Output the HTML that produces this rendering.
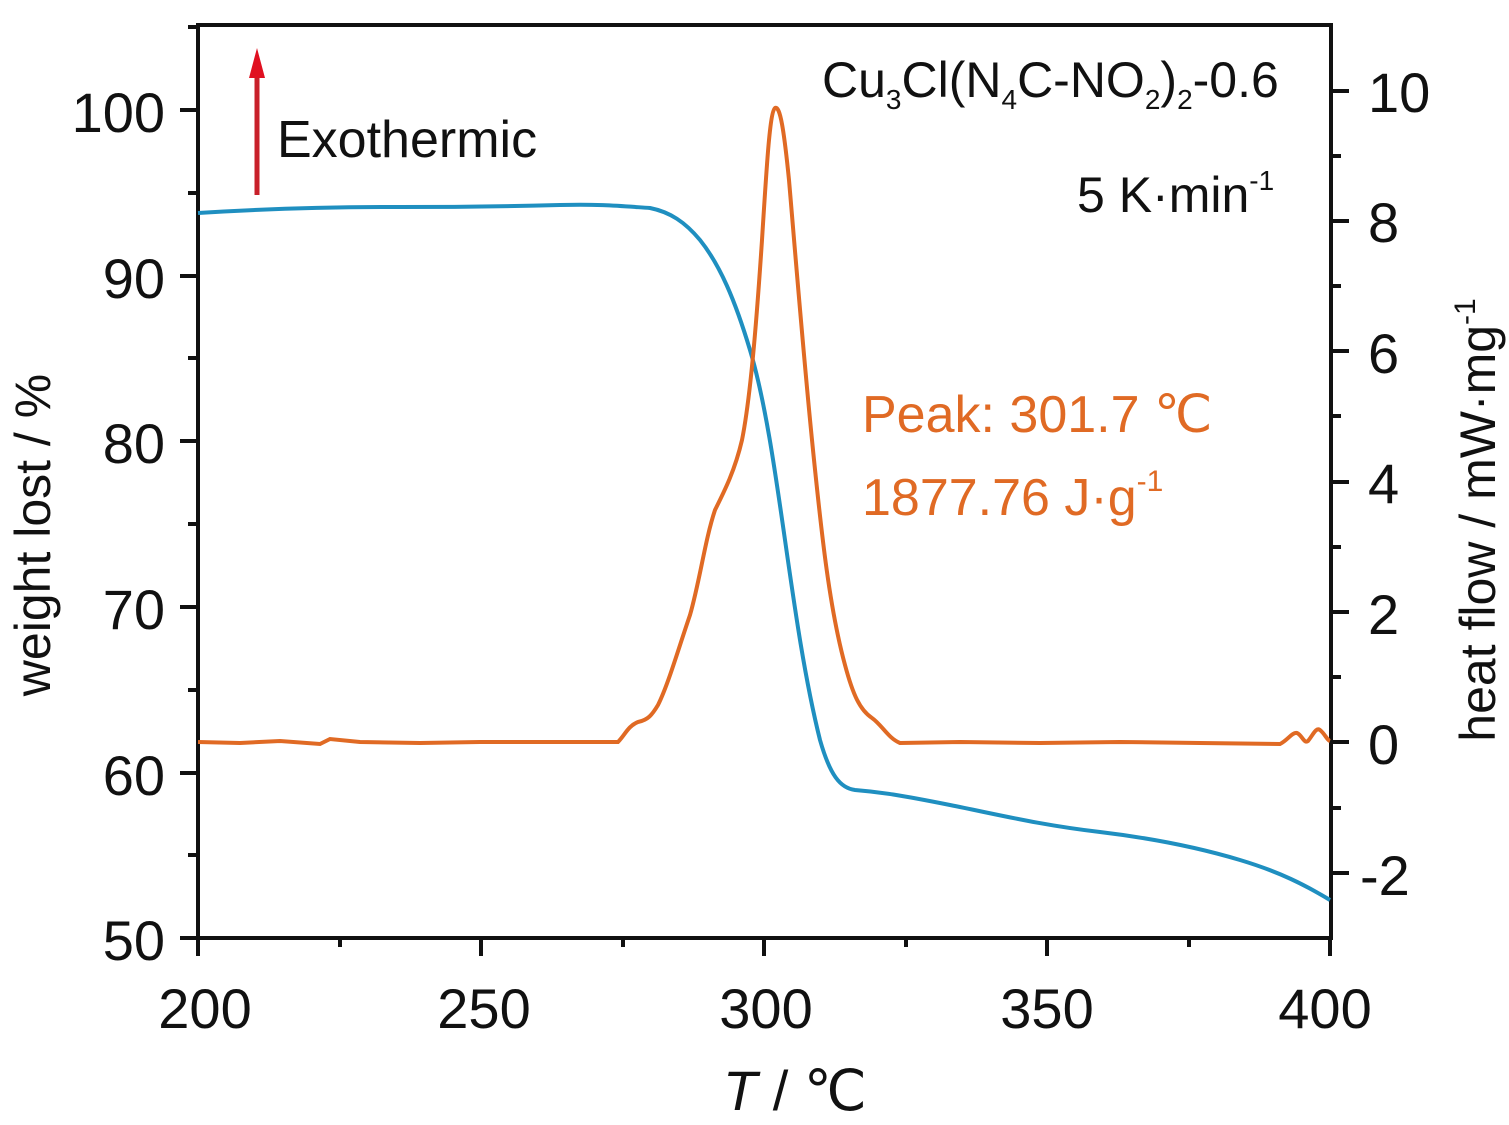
<!DOCTYPE html>
<html><head><meta charset="utf-8"><style>
body{margin:0;background:#fff;}
svg text{font-family:"Liberation Sans",sans-serif;}
</style></head><body>
<svg width="1509" height="1120" viewBox="0 0 1509 1120" xmlns="http://www.w3.org/2000/svg">
<rect width="1509" height="1120" fill="#fff"/>
<!-- frame -->
<g stroke="#111" stroke-width="4" fill="none">
<rect x="198" y="25" width="1133" height="913"/>
</g>
<!-- left ticks -->
<g stroke="#111" stroke-width="4">
<line x1="180" y1="110" x2="198" y2="110"/><line x1="180" y1="276" x2="198" y2="276"/>
<line x1="180" y1="441" x2="198" y2="441"/><line x1="180" y1="607" x2="198" y2="607"/>
<line x1="180" y1="773" x2="198" y2="773"/><line x1="180" y1="938" x2="198" y2="938"/>
<line x1="188" y1="193" x2="198" y2="193"/><line x1="188" y1="358" x2="198" y2="358"/>
<line x1="188" y1="524" x2="198" y2="524"/><line x1="188" y1="690" x2="198" y2="690"/>
<line x1="188" y1="855" x2="198" y2="855"/><line x1="188" y1="27" x2="198" y2="27"/>
<!-- bottom ticks -->
<line x1="198" y1="938" x2="198" y2="956"/><line x1="481" y1="938" x2="481" y2="956"/>
<line x1="764" y1="938" x2="764" y2="956"/><line x1="1047" y1="938" x2="1047" y2="956"/>
<line x1="1330" y1="938" x2="1330" y2="956"/>
<line x1="340" y1="938" x2="340" y2="947"/><line x1="623" y1="938" x2="623" y2="947"/>
<line x1="906" y1="938" x2="906" y2="947"/><line x1="1189" y1="938" x2="1189" y2="947"/>
<!-- right ticks -->
<line x1="1331" y1="91" x2="1349" y2="91"/><line x1="1331" y1="221" x2="1349" y2="221"/>
<line x1="1331" y1="351" x2="1349" y2="351"/><line x1="1331" y1="482" x2="1349" y2="482"/>
<line x1="1331" y1="612" x2="1349" y2="612"/><line x1="1331" y1="742" x2="1349" y2="742"/>
<line x1="1331" y1="873" x2="1349" y2="873"/>
<line x1="1331" y1="156" x2="1341" y2="156"/><line x1="1331" y1="286" x2="1341" y2="286"/>
<line x1="1331" y1="416" x2="1341" y2="416"/><line x1="1331" y1="547" x2="1341" y2="547"/>
<line x1="1331" y1="677" x2="1341" y2="677"/><line x1="1331" y1="808" x2="1341" y2="808"/>
</g>
<g font-size="56" fill="#111" text-anchor="end">
<text x="165" y="132">100</text><text x="165" y="298">90</text><text x="165" y="463">80</text>
<text x="165" y="629">70</text><text x="165" y="795">60</text><text x="165" y="960">50</text>
</g>
<g font-size="56" fill="#111" text-anchor="middle">
<text x="205" y="1028">200</text><text x="484" y="1028">250</text><text x="766" y="1028">300</text>
<text x="1047" y="1028">350</text><text x="1325" y="1028">400</text>
</g>
<g font-size="56" fill="#111">
<text x="1368" y="112">10</text><text x="1368" y="242">8</text><text x="1368" y="373">6</text>
<text x="1368" y="503">4</text><text x="1368" y="634">2</text><text x="1368" y="764">0</text>
<text x="1360" y="895">-2</text>
</g>
<text x="723" y="1110" font-size="56" fill="#111"><tspan font-style="italic">T</tspan> / ℃</text>
<text transform="translate(50,535) rotate(-90)" font-size="50" fill="#111" text-anchor="middle">weight lost / %</text>
<text transform="translate(1495,520) rotate(-90)" font-size="50" fill="#111" text-anchor="middle">heat flow / mW·mg<tspan font-size="30" dy="-20">-1</tspan></text>
<!-- arrow -->
<line x1="257" y1="195" x2="257" y2="75" stroke="#c8202a" stroke-width="5"/>
<polygon points="257,48 249,78 265,78" fill="#e01020"/>
<text x="277" y="157" font-size="52" fill="#111">Exothermic</text>
<text x="822" y="97" font-size="50" fill="#111">Cu<tspan font-size="28" dy="12">3</tspan><tspan dy="-12">Cl(N</tspan><tspan font-size="28" dy="12">4</tspan><tspan dy="-12">C-NO</tspan><tspan font-size="28" dy="12">2</tspan><tspan dy="-12">)</tspan><tspan font-size="28" dy="12">2</tspan><tspan dy="-12">-0.6</tspan></text>
<text x="1077" y="212" font-size="50" fill="#111">5 K·min<tspan font-size="28" dy="-22">-1</tspan></text>
<text x="862" y="432" font-size="52" fill="#e06a24">Peak: 301.7 ℃</text>
<text x="862" y="515" font-size="52" fill="#e06a24">1877.76 J·g<tspan font-size="30" dy="-24">-1</tspan></text>
<!-- blue -->
<path d="M198,213 C260,209 320,207 400,207 S520,206 560,205 S620,206 650,208 C670,212 685,222 700,240 C720,265 735,300 750,350 C765,400 775,470 785,540 C795,610 805,680 820,740 C830,775 840,788 855,790 C880,792 900,795 950,805 C1000,815 1040,825 1100,832 C1150,838 1200,848 1240,860 C1280,872 1305,885 1330,900" fill="none" stroke="#1f8fc0" stroke-width="4"/>
<!-- orange -->
<path d="M198,742 L240,743 L280,741 L320,744 L330,739 L360,742 L420,743 L480,742 L540,742 L600,742 L618,742 C625,735 628,726 638,722 C648,720 652,715 658,705 C668,685 678,650 690,615 C700,580 705,540 715,510 C725,490 735,470 742,440 C750,400 756,330 762,240 C767,160 770,112 775,108 C780,105 784,130 789,180 C795,250 803,350 812,440 C822,540 830,610 845,665 C853,695 860,710 872,718 C882,725 888,738 900,743 L960,742 L1040,743 L1120,742 L1200,743 L1280,744 C1288,740 1292,732 1297,733 C1302,735 1304,744 1308,741 C1313,735 1316,727 1320,730 C1325,734 1327,740 1330,741" fill="none" stroke="#e06a24" stroke-width="4"/>
</svg>
</body></html>
